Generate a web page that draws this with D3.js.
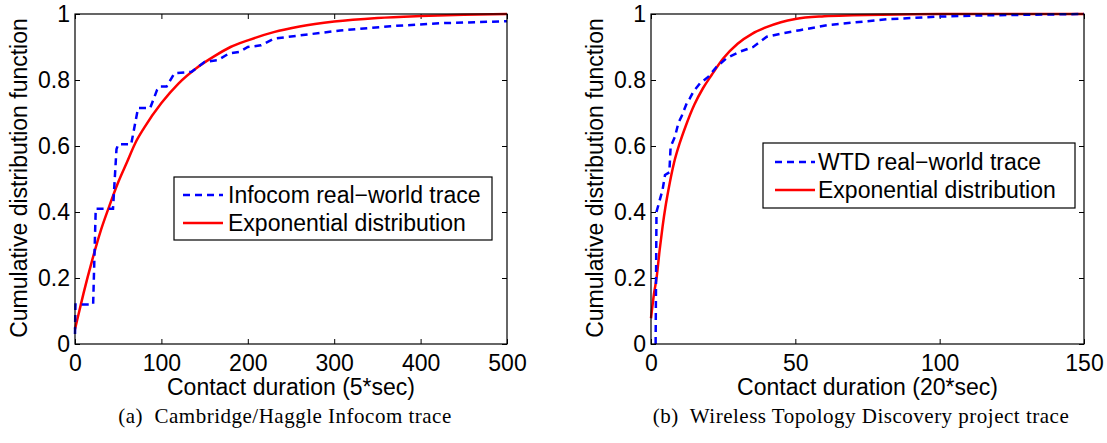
<!DOCTYPE html>
<html>
<head>
<meta charset="utf-8">
<script src="https://cdn.jsdelivr.net/npm/d3@7"></script>
<style>
  body { margin: 0; background: #fff; }
  svg { display: block; }
  .tk text { font-family: "Liberation Sans", Arial, sans-serif; font-size: 23px; fill: #000; }
  .tk line { stroke: #000; }
</style>
</head>
<body>
<svg id="chart" width="1107" height="443"></svg>
<script>
// ---- data ----
const yTicks = [0, 0.2, 0.4, 0.6, 0.8, 1]
const yTickLabels = ["0", "0.2", "0.4", "0.6", "0.8", "1"]

const infocomTicks = [0, 100, 200, 300, 400, 500]
// empirical CDF, Infocom trace (x in 5*sec)
const infocomX = [0, 0.5, 21, 24, 44, 48, 50, 65, 73, 87, 95, 98, 106, 115, 135, 150, 165, 178, 190, 200, 215, 230, 260, 307, 365, 422, 500]
const infocomY = [0.03, 0.12, 0.12, 0.41, 0.41, 0.59, 0.605, 0.605, 0.715, 0.715, 0.77, 0.78, 0.78, 0.82, 0.825, 0.855, 0.86, 0.88, 0.885, 0.90, 0.905, 0.925, 0.935, 0.95, 0.963, 0.972, 0.978]
// exponential fit, Infocom
const infocomExpX = [0, 5, 10, 20, 30, 40, 50, 60, 70, 80, 100, 120, 140, 160, 180, 200, 230, 260, 300, 350, 400, 450, 500]
const infocomExpY = [0.045, 0.10, 0.155, 0.255, 0.345, 0.42, 0.49, 0.55, 0.61, 0.655, 0.73, 0.79, 0.835, 0.87, 0.90, 0.92, 0.945, 0.962, 0.977, 0.988, 0.994, 0.998, 1.0]

const wtdTicks = [0, 50, 100, 150]
// empirical CDF, WTD trace (x in 20*sec)
const wtdX = [1.6, 1.9, 4.0, 4.85, 6.35, 6.8, 8.3, 9.5, 10.6, 12.4, 13.5, 14.7, 17, 19.9, 22.7, 26.2, 30.8, 35.4, 40.1, 44.7, 51.6, 60.9, 81.6, 99, 116, 150]
const wtdY = [0, 0.40, 0.467, 0.512, 0.52, 0.598, 0.628, 0.67, 0.69, 0.73, 0.745, 0.765, 0.79, 0.81, 0.84, 0.866, 0.886, 0.90, 0.931, 0.94, 0.951, 0.966, 0.984, 0.992, 0.996, 1.0]
// exponential fit, WTD
const wtdExpX = [0, 1, 2, 3, 4, 5, 6, 8, 10, 12, 15, 18, 21, 25, 30, 35, 40, 45, 50, 60, 70, 80, 100, 150]
const wtdExpY = [0.078, 0.15, 0.205, 0.285, 0.355, 0.415, 0.465, 0.55, 0.61, 0.66, 0.725, 0.775, 0.815, 0.865, 0.91, 0.94, 0.96, 0.975, 0.985, 0.993, 0.996, 0.998, 1.0, 1.0]

const svg = d3.select("#chart")
const SANS = "Liberation Sans, Arial, sans-serif"

function panel(cfg) {
    var x = d3.scaleLinear().domain(cfg.xDomain).range([cfg.left, cfg.right])
    var y = d3.scaleLinear().domain([0, 1]).range([344, 14])
    var g = svg.append("g")

    // inward ticks on all four sides
    g.append("g").attr("class", "tk")
        .attr("transform", "translate(0,344)")
        .call(d3.axisBottom(x).tickValues(cfg.xTicks).tickFormat(d3.format("d")).tickSizeInner(-5).tickSizeOuter(0).tickPadding(11))
    g.append("g").attr("class", "tk")
        .attr("transform", "translate(0,14)")
        .call(d3.axisTop(x).tickValues(cfg.xTicks).tickFormat("").tickSizeInner(-5).tickSizeOuter(0))
    g.append("g").attr("class", "tk")
        .attr("transform", "translate(" + cfg.left + ",0)")
        .call(d3.axisLeft(y).tickValues(yTicks).tickFormat((d, i) => yTickLabels[i]).tickSizeInner(-5).tickSizeOuter(0).tickPadding(5))
    g.append("g").attr("class", "tk")
        .attr("transform", "translate(" + cfg.right + ",0)")
        .call(d3.axisRight(y).tickValues(yTicks).tickFormat("").tickSizeInner(-5).tickSizeOuter(0))
    g.selectAll(".tk .domain").remove()
    g.selectAll(".tk line").attr("stroke-width", 1)

    var line = d3.line()
        .x(d => x(d[0]))
        .y(d => y(d[1]))

    var lineSmooth = d3.line()
        .x(d => x(d[0]))
        .y(d => y(d[1]))
        .curve(d3.curveMonotoneX)

    g.append("path")
        .attr("d", lineSmooth(cfg.expX.map((v, i) => [v, cfg.expY[i]])))
        .attr("fill", "none")
        .attr("stroke", "#ff0000")
        .attr("stroke-width", 2.5)

    g.append("path")
        .attr("d", line(cfg.dataX.map((v, i) => [v, cfg.dataY[i]])))
        .attr("fill", "none")
        .attr("stroke", "#0000ff")
        .attr("stroke-width", 2.5)
        .attr("stroke-dasharray", "7,5")

    // box
    g.append("rect")
        .attr("x", cfg.left).attr("y", 14)
        .attr("width", cfg.right - cfg.left).attr("height", 330)
        .attr("fill", "none").attr("stroke", "#000").attr("stroke-width", 1.2)

    // axis titles
    g.append("text")
        .attr("x", (cfg.left + cfg.right) / 2).attr("y", 395)
        .attr("text-anchor", "middle")
        .style("font-family", SANS).style("font-size", "23px")
        .text(cfg.xTitle)
    g.append("text")
        .attr("transform", "translate(" + (cfg.left - 48) + ",178) rotate(-90)")
        .attr("text-anchor", "middle")
        .style("font-family", SANS).style("font-size", "23px")
        .text("Cumulative distribution function")

    // caption
    g.append("text")
        .attr("x", cfg.captionX).attr("y", 423)
        .attr("text-anchor", "middle")
        .style("font-family", "Liberation Serif, Times New Roman, serif").style("font-size", "21px")
        .style("letter-spacing", "0.5px").style("white-space", "pre")
        .text(cfg.caption)

    // legend
    var L = cfg.legend
    var lg = g.append("g")
    lg.append("rect")
        .attr("x", L.x).attr("y", L.y).attr("width", L.w).attr("height", L.h)
        .attr("fill", "#fff").attr("stroke", "#000").attr("stroke-width", 1.2)
    var rows = [
        { label: cfg.dataLabel, color: "#0000ff", dash: "7,5" },
        { label: "Exponential distribution", color: "#ff0000", dash: null }
    ]
    rows.forEach((r, i) => {
        var cy = L.y + L.row1 + i * 28
        lg.append("line")
            .attr("x1", L.x + L.lx1).attr("x2", L.x + L.lx2)
            .attr("y1", cy).attr("y2", cy)
            .attr("stroke", r.color).attr("stroke-width", 2.5)
            .attr("stroke-dasharray", r.dash)
        lg.append("text")
            .attr("x", L.x + L.tx).attr("y", cy + 8)
            .style("font-family", SANS).style("font-size", "23px")
            .text(r.label)
    })
}

panel({
    left: 75, right: 507, xDomain: [0, 500], xTicks: infocomTicks,
    dataX: infocomX, dataY: infocomY, expX: infocomExpX, expY: infocomExpY,
    xTitle: "Contact duration (5*sec)",
    caption: "(a)  Cambridge/Haggle Infocom trace", captionX: 285,
    dataLabel: "Infocom real\u2212world trace",
    legend: { x: 174, y: 177, w: 318, h: 63, row1: 18, lx1: 9, lx2: 49, tx: 54 }
})

panel({
    left: 651, right: 1084, xDomain: [0, 150], xTicks: wtdTicks,
    dataX: wtdX, dataY: wtdY, expX: wtdExpX, expY: wtdExpY,
    xTitle: "Contact duration (20*sec)",
    caption: "(b)  Wireless Topology Discovery project trace", captionX: 861,
    dataLabel: "WTD real\u2212world trace",
    legend: { x: 763, y: 143, w: 312, h: 65, row1: 19, lx1: 12, lx2: 52, tx: 55 }
})
</script>
</body>
</html>
